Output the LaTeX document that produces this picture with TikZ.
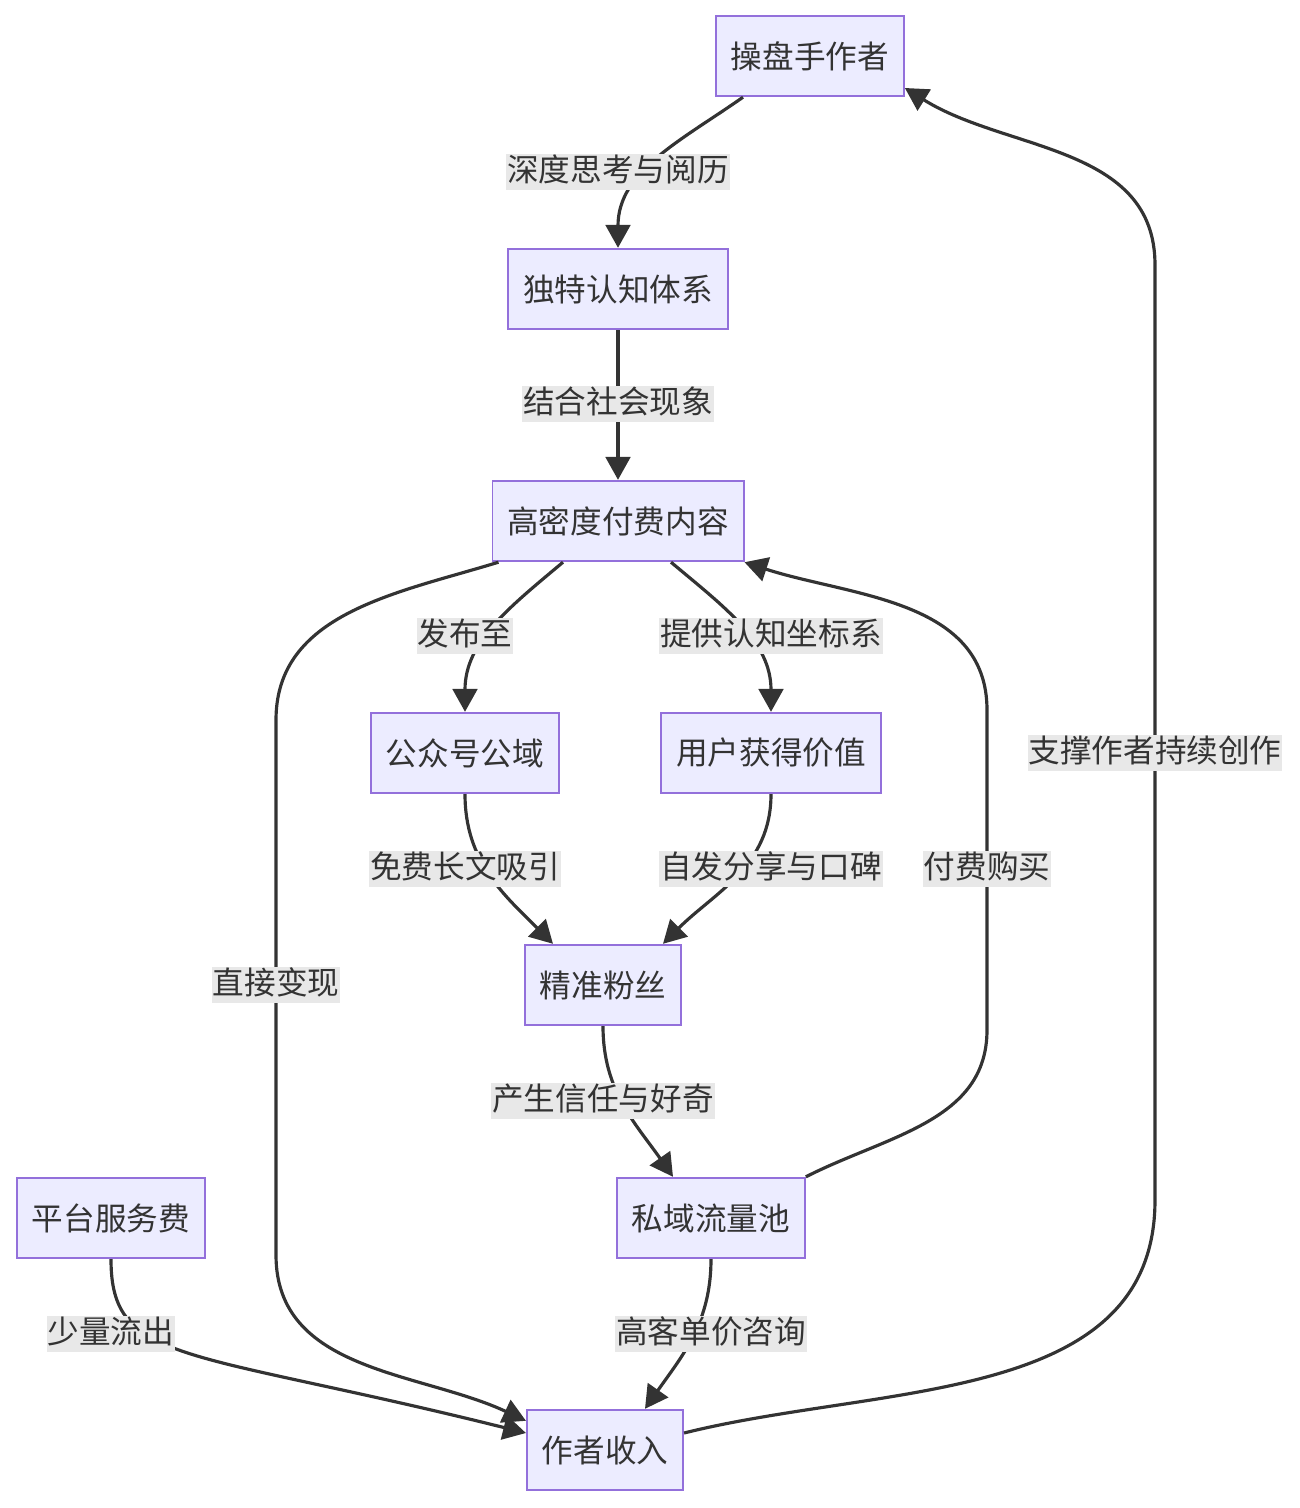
\documentclass[tikz,border=0pt]{standalone}
\usepackage{fontspec}
\usepackage{xcolor}
\usepackage{tikz}
\usetikzlibrary{arrows.meta,calc}
\newfontfamily\cjk{Noto Sans CJK SC}
\definecolor{boxfill}{HTML}{ECECFF}
\definecolor{boxline}{HTML}{9370DB}
\definecolor{ink}{HTML}{333333}
\definecolor{labelbg}{HTML}{E8E8E8}

\begin{document}
\begin{tikzpicture}[x=0.02cm,y=0.02cm,
  every node/.style={font=\cjk\fontsize{18}{22}\selectfont,text=ink},
  box/.style={draw=boxline,fill=boxfill,line width=1pt,minimum height=45.9pt,inner xsep=8.5pt},
  flow/.style={draw=ink,line width=1.8pt,-{Triangle[length=13pt,width=14pt]}},
  lbl/.style={fill=labelbg,inner xsep=0.5pt,inner ysep=1.5pt,text height=14pt,text depth=3.5pt}]
\useasboundingbox (0,0) rectangle (1300,-1508);
% boxes
\node [box] (author) at (810,-56) {操盘手作者};
\node [box] (system) at (618,-289) {独特认知体系};
\node [box] (content) at (618,-521) {高密度付费内容};
\node [box] (public) at (465,-753) {公众号公域};
\node [box] (value) at (771,-753) {用户获得价值};
\node [box] (fans) at (603,-985) {精准粉丝};
\node [box] (private) at (711,-1218) {私域流量池};
\node [box] (platform) at (111,-1218) {平台服务费};
\node [box] (income) at (605,-1450) {作者收入};
% edges
\draw [flow] ($(author.south)+(-67,0)$) to[out=-145,in=90] (system.north);
\draw [flow] (system) -- (content);
\draw [flow] ($(content.south)+(-55,0)$) to[out=-140,in=90] (public.north);
\draw [flow] ($(content.south)+(53,0)$) to[out=-40,in=90] (value.north);
\draw [flow] ($(content.south west)+(7,0)$) to[out=-163,in=90] (276,-720) -- (276,-1255) to[out=-90,in=155] ($(income.north west)+(0,-12)$);
\draw [flow] (public.south) to[out=-90,in=135] ($(fans.north)+(-50,0)$);
\draw [flow] (value.south) to[out=-90,in=45] ($(fans.north)+(60,0)$);
\draw [flow] (fans.south) to[out=-90,in=125] ($(private.north)+(-38,0)$);
\draw [flow] (private.north east) to[out=27,in=-90] (987,-1030) -- (987,-710) to[out=90,in=-18] (content.south east);
\draw [flow] (private.south) to[out=-90,in=55] ($(income.north)+(40,0)$);
\draw [flow] (platform.south) to[out=-90,in=166,out distance=60,in distance=200] ($(income.west)+(0,17)$);
\draw [flow] ($(income.east)+(0,17)$) to[out=14,in=-90] (1155,-1200) -- (1155,-265) to[out=90,in=-32] ($(author.east)+(0,-32)$);
% edge labels
\node [lbl] (lthink) at (618,-172) {深度思考与阅历};
\node [lbl] (lsocial) at (618,-404) {结合社会现象};
\node [lbl] (lpublish) at (465,-636) {发布至};
\node [lbl] (lcoord) at (771,-636) {提供认知坐标系};
\node [lbl] (lfree) at (465,-869) {免费长文吸引};
\node [lbl] (lshare) at (771,-869) {自发分享与口碑};
\node [lbl] (lpay) at (987,-869) {付费购买};
\node [lbl] (ldirect) at (276,-985) {直接变现};
\node [lbl] (lsupport) at (1155,-753) {支撑作者持续创作};
\node [lbl] (ltrust) at (603,-1101) {产生信任与好奇};
\node [lbl] (lleak) at (111,-1334) {少量流出};
\node [lbl] (lconsult) at (711,-1334) {高客单价咨询};
\end{tikzpicture}
\end{document}
